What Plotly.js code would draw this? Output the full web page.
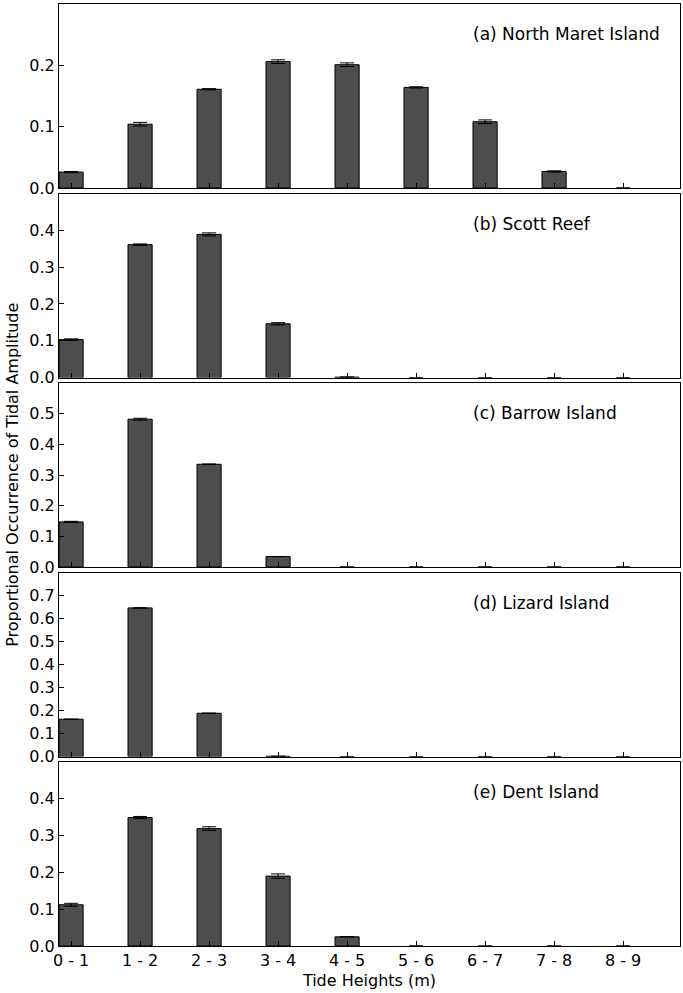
<!DOCTYPE html>
<html>
<head>
<meta charset="utf-8">
<script src="https://cdn.plot.ly/plotly-3.0.1.min.js"></script>
<style>html,body{margin:0;padding:0;background:#fff;}#chart{width:683px;height:993px;}</style>
</head>
<body>
<div id="chart"></div>
<script>
const categories = ["0 - 1","1 - 2","2 - 3","3 - 4","4 - 5","5 - 6","6 - 7","7 - 8","8 - 9"];
const siteNames = ["(a) North Maret Island","(b) Scott Reef","(c) Barrow Island","(d) Lizard Island","(e) Dent Island"];
const northMaret = [0.026, 0.104, 0.161, 0.206, 0.201, 0.164, 0.108, 0.027, 0.0];
const northMaretErr = [0.001, 0.003, 0.001, 0.003, 0.003, 0.001, 0.003, 0.001, null];
const scottReef = [0.103, 0.361, 0.389, 0.146, 0.001, 0.0, 0.0, 0.0, 0.0];
const scottReefErr = [0.002, 0.002, 0.004, 0.003, null, null, null, null, null];
const barrowIsland = [0.147, 0.482, 0.335, 0.034, 0.0, 0.0, 0.0, 0.0, 0.0];
const barrowIslandErr = [0.002, 0.003, 0.001, null, null, null, null, null, null];
const lizardIsland = [0.162, 0.646, 0.188, 0.001, 0.0, 0.0, 0.0, 0.0, 0.0];
const lizardIslandErr = [null, 0.001, null, null, null, null, null, null, null];
const dentIsland = [0.112, 0.349, 0.319, 0.190, 0.025, 0.0, 0.0, 0.0, 0.0];
const dentIslandErr = [0.004, 0.003, 0.005, 0.006, null, null, null, null, null];
const yTops = [0.3, 0.5, 0.6, 0.8, 0.5];

const series = [northMaret, scottReef, barrowIsland, lizardIsland, dentIsland];
const errs = [northMaretErr, scottReefErr, barrowIslandErr, lizardIslandErr, dentIslandErr];
const xIdx = categories.map((c, i) => i);

const FONT = "DejaVu Sans";
const H = 993, T = 4, B = 47;
const plotH = H - T - B;
const panelH = 184, period = 189.5;

const traces = [];
const layout = {
  width: 683, height: 993,
  margin: {l: 59, r: 3, t: T, b: B},
  paper_bgcolor: "#fff", plot_bgcolor: "#fff",
  showlegend: false,
  font: {family: FONT, size: 16, color: "#000"},
  annotations: [],
  bargap: 0
};

for (let i = 0; i < 5; i++) {
  const sx = i === 0 ? "" : String(i + 1);
  traces.push({
    type: "bar",
    x: xIdx,
    y: series[i],
    width: 0.35,
    xaxis: "x" + sx, yaxis: "y" + sx,
    marker: {color: "#4d4d4d", line: {color: "#000", width: series[i].map(v => v > 0 ? 1 : 0)}},
    error_y: {type: "data", array: errs[i], visible: true, color: "#000", thickness: 1, width: 7},
    hoverinfo: "none"
  });
  const top = 1 - (i * period) / plotH;
  const bot = 1 - (i * period + panelH) / plotH;
  const ticks = [];
  for (let v = 0; v < yTops[i] - 1e-9; v += 0.1) ticks.push(Math.round(v * 10) / 10);
  layout["xaxis" + sx] = {
    domain: [0, 1], anchor: "y" + sx,
    range: [-0.175, 8.825],
    tickvals: xIdx, ticktext: categories,
    showticklabels: i === 4,
    ticks: "inside", ticklen: 5, tickcolor: "#000", tickwidth: 1,
    showline: true, mirror: true, linecolor: "#000", linewidth: 1,
    showgrid: false, zeroline: false,
    tickfont: {family: FONT, size: 16, color: "#000"},
    title: i === 4 ? {text: "Tide Heights (m)", font: {family: FONT, size: 16, color: "#000"}, standoff: 5} : {text: ""}
  };
  if (i > 0) layout["xaxis" + sx].matches = "x";
  layout["yaxis" + sx] = {
    domain: [bot, top], anchor: "x" + sx,
    range: [0, yTops[i]],
    tickvals: ticks, ticktext: ticks.map(v => v.toFixed(1)),
    ticks: "inside", ticklen: 5, tickcolor: "#000", tickwidth: 1,
    showline: true, mirror: true, linecolor: "#000", linewidth: 1,
    showgrid: false, zeroline: false,
    tickfont: {family: FONT, size: 16, color: "#000"}
  };
  layout.annotations.push({
    text: siteNames[i],
    xref: "x" + sx + " domain", yref: "y" + sx + " domain",
    x: 0.664, y: 1 - 30 / panelH,
    xanchor: "left", yanchor: "middle",
    showarrow: false,
    font: {family: FONT, size: 17, color: "#000"}
  });
}

layout.annotations.push({
  text: "Proportional Occurrence of Tidal Amplitude",
  xref: "paper", yref: "paper",
  x: -0.076, y: 0.5, xanchor: "center", yanchor: "middle",
  textangle: -90, showarrow: false,
  font: {family: FONT, size: 16, color: "#000"}
});

Plotly.newPlot("chart", traces, layout, {staticPlot: true});
</script>
</body>
</html>
